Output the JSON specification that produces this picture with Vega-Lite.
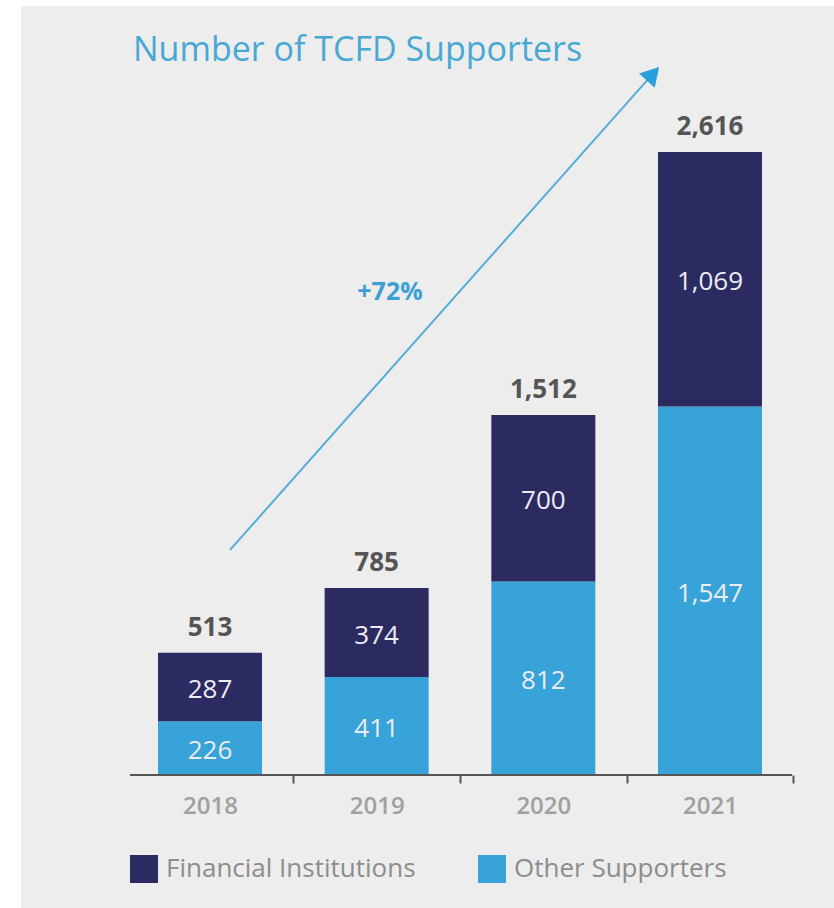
{
  "$schema": "https://vega.github.io/schema/vega-lite/v6.json",
  "width": 813,
  "height": 902,
  "autosize": {"type": "none"},
  "padding": {"left": 21, "top": 6, "right": 0, "bottom": 0},
  "background": "#ffffff",
  "config": {"view": {"fill": "#ededed", "stroke": null}, "font": "Open Sans"},
  "title": {"text": "Number of TCFD Supporters", "anchor": "start", "dx": 112, "offset": -62, "fontSize": 34, "fontWeight": "normal", "color": "#48a8d4", "font": "Open Sans"},
  "datasets": {
    "supporters": [
      {"year": "2018", "category": "Other Supporters", "ord": 1, "value": 226},
      {"year": "2018", "category": "Financial Institutions", "ord": 2, "value": 287},
      {"year": "2019", "category": "Other Supporters", "ord": 1, "value": 411},
      {"year": "2019", "category": "Financial Institutions", "ord": 2, "value": 374},
      {"year": "2020", "category": "Other Supporters", "ord": 1, "value": 812},
      {"year": "2020", "category": "Financial Institutions", "ord": 2, "value": 700},
      {"year": "2021", "category": "Other Supporters", "ord": 1, "value": 1547},
      {"year": "2021", "category": "Financial Institutions", "ord": 2, "value": 1069}
    ],
    "baseline": [{"xa": 2017.52, "xb": 2021.492, "v": 0}],
    "arrow": [{"xp": 2018.12, "yp": 945}, {"xp": 2020.625, "yp": 2919}],
    "head": [{"xp": 2020.658, "yp": 2944}],
    "growth": [{"xp": 2019.08, "yp": 2028, "label": "+72%"}]
  },
  "layer": [
    {
      "data": {"name": "supporters"},
      "encoding": {
        "x": {
          "field": "year",
          "type": "nominal",
          "scale": {"paddingInner": 0.376, "paddingOuter": 0.627, "align": 0.6555},
          "axis": {
            "title": null,
            "domain": false,
            "ticks": true,
            "tickSize": 8,
            "tickWidth": 2,
            "tickColor": "#555555",
            "tickOffset": 83.33,
            "labelOffset": -83.33,
            "labelFontSize": 24,
            "labelFont": "Open Sans",
            "labelFontWeight": 600,
            "labelColor": "#a0a0a0",
            "labelPadding": 11,
            "labelAngle": 0,
            "offset": -133,
            "grid": false
          }
        }
      },
      "layer": [
        {
          "transform": [{"stack": "value", "groupby": ["year"], "sort": [{"field": "ord", "order": "ascending"}], "as": ["v0", "v1"]}],
          "mark": {"type": "bar"},
          "encoding": {
            "y": {"field": "v1", "type": "quantitative", "scale": {"domain": [-558.5, 3229.1], "nice": false, "zero": false}, "axis": null},
            "y2": {"field": "v0"},
            "color": {
              "field": "category",
              "type": "nominal",
              "scale": {"domain": ["Financial Institutions", "Other Supporters"], "range": ["#2b2b62", "#37a3d8"]},
              "legend": {
                "orient": "none",
                "legendX": 109,
                "legendY": 849,
                "title": null,
                "direction": "horizontal",
                "columns": 2,
                "columnPadding": 62,
                "symbolType": "square",
                "symbolSize": 784,
                "symbolStrokeWidth": 0,
                "symbolOpacity": 1,
                "labelFontSize": 26,
                "labelLimit": 500,
                "labelColor": "#8c8c8c",
                "labelFont": "Open Sans",
                "labelOffset": 8,
                "padding": 0
              }
            }
          }
        },
        {
          "transform": [
            {"stack": "value", "groupby": ["year"], "sort": [{"field": "ord", "order": "ascending"}], "as": ["v0", "v1"]},
            {"fold": ["v0", "v1"], "as": ["edge", "pos"]},
            {"aggregate": [{"op": "mean", "field": "pos", "as": "mid"}], "groupby": ["year", "category", "value"]}
          ],
          "mark": {"type": "text", "color": "#ececf2", "fontSize": 26, "font": "Open Sans", "baseline": "middle", "align": "center", "dy": 3},
          "encoding": {
            "y": {"field": "mid", "type": "quantitative", "axis": null},
            "text": {"field": "value", "type": "quantitative", "format": ","}
          }
        },
        {
          "transform": [{"aggregate": [{"op": "sum", "field": "value", "as": "total"}], "groupby": ["year"]}],
          "mark": {"type": "text", "color": "#555555", "fontSize": 26, "fontWeight": "bold", "font": "Open Sans", "baseline": "middle", "align": "center", "dy": -25},
          "encoding": {
            "y": {"field": "total", "type": "quantitative", "axis": null},
            "text": {"field": "total", "type": "quantitative", "format": ","}
          }
        }
      ]
    },
    {
      "layer": [
        {
          "data": {"name": "baseline"},
          "mark": {"type": "rule", "color": "#555555", "strokeWidth": 2},
          "encoding": {
            "x": {"field": "xa", "type": "quantitative", "scale": {"domain": [2016.866, 2021.744], "nice": false, "zero": false}, "axis": null},
            "x2": {"field": "xb"},
            "y": {"field": "v", "type": "quantitative", "axis": null}
          }
        },
        {
          "data": {"name": "arrow"},
          "mark": {"type": "line", "color": "#55acd8", "strokeWidth": 2},
          "encoding": {
            "x": {"field": "xp", "type": "quantitative", "axis": null},
            "y": {"field": "yp", "type": "quantitative", "axis": null}
          }
        },
        {
          "data": {"name": "head"},
          "mark": {"type": "point", "shape": "triangle-up", "filled": true, "size": 450, "angle": 42, "color": "#2b9fd9", "opacity": 1},
          "encoding": {
            "x": {"field": "xp", "type": "quantitative", "axis": null},
            "y": {"field": "yp", "type": "quantitative", "axis": null}
          }
        },
        {
          "data": {"name": "growth"},
          "mark": {"type": "text", "color": "#3d9fd2", "fontSize": 25, "fontWeight": "bold", "font": "Open Sans", "baseline": "middle", "align": "center"},
          "encoding": {
            "x": {"field": "xp", "type": "quantitative", "axis": null},
            "y": {"field": "yp", "type": "quantitative", "axis": null},
            "text": {"field": "label"}
          }
        }
      ]
    }
  ],
  "resolve": {"scale": {"x": "independent"}}
}
